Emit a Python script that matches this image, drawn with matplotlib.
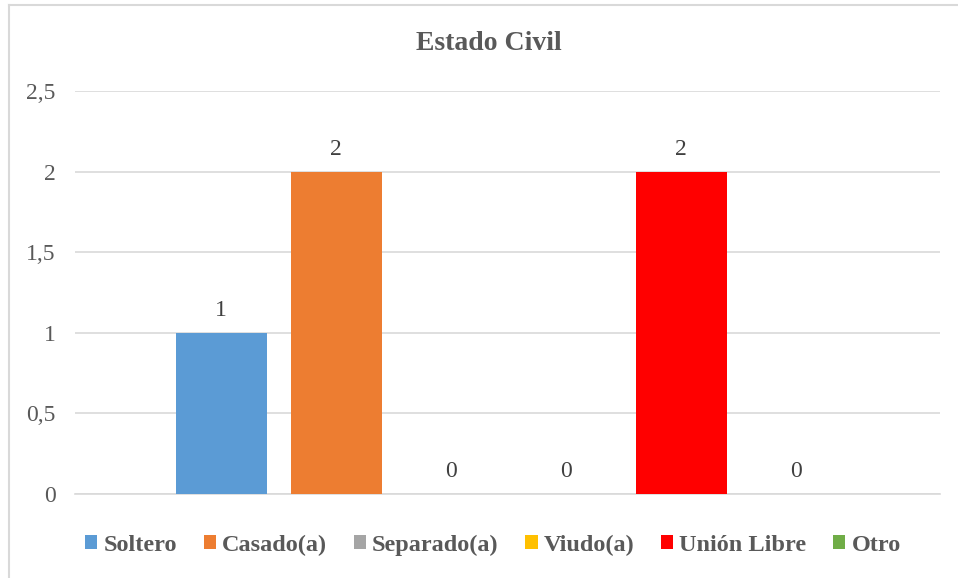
import matplotlib.pyplot as plt
from matplotlib.lines import Line2D
from matplotlib.ticker import FuncFormatter

# data
categorias = ['Soltero', 'Casado(a)', 'Separado(a)', 'Viudo(a)', 'Unión Libre', 'Otro']
valores = [1, 2, 0, 0, 2, 0]
colores = ['#5B9BD5', '#ED7D31', '#A5A5A5', '#FFC000', '#FF0000', '#70AD47']
y_ticks = [0, 0.5, 1, 1.5, 2, 2.5]

plt.rcParams['font.family'] = ['Liberation Serif', 'DejaVu Serif']

fig = plt.figure(figsize=(9.58, 5.78), dpi=100)
ax = fig.add_axes([75/958, 84/578, 865/958, 403/578])

x = list(range(len(categorias)))
bars = ax.bar(x, valores, width=0.79, color=colores, zorder=3)
for b, c in zip(bars, categorias):
    b.set_label(c)

for xi, v in zip(x, valores):
    ax.text(xi, v + 0.14, str(v), ha='center', va='center', fontsize=17, color='#404040')

ax.set_xlim(-1.27, 6.25)
ax.set_ylim(0, 2.5)
ax.set_yticks(y_ticks)
ax.yaxis.set_major_formatter(FuncFormatter(lambda v, p: ('%g' % v).replace('.', ',')))
ax.tick_params(axis='y', length=0, labelsize=17, labelcolor='#595959', pad=14)
ax.set_xticks([])
ax.grid(axis='y', color='#D9D9D9', linewidth=1.2, zorder=0)
for s in ['top', 'right', 'left']:
    ax.spines[s].set_visible(False)
ax.spines['bottom'].set_color('#D9D9D9')
ax.spines['bottom'].set_linewidth(1.2)

fig.text(489/958, 1 - 43/578, 'Estado Civil', ha='center', va='center',
         fontsize=20, fontweight='bold', color='#595959')

leg = fig.legend(handles=list(bars), loc='center', bbox_to_anchor=(493/958, 1 - 545/578),
                 ncol=6, frameon=False, handlelength=0.5, handleheight=0.5,
                 handletextpad=0.25, columnspacing=1.1,
                 prop={'size': 17.5, 'weight': 'bold'})
for t in leg.get_texts():
    t.set_color('#595959')

# chart border (only left and top edges visible)
fig.add_artist(Line2D([8.5/958, 8.5/958], [0, 1 - 5/578], transform=fig.transFigure,
                      color='#D9D9D9', linewidth=1.5))
fig.add_artist(Line2D([8.5/958, 1], [1 - 5/578, 1 - 5/578], transform=fig.transFigure,
                      color='#D9D9D9', linewidth=1.5))

fig.savefig('out.png', dpi=100, facecolor='white')
